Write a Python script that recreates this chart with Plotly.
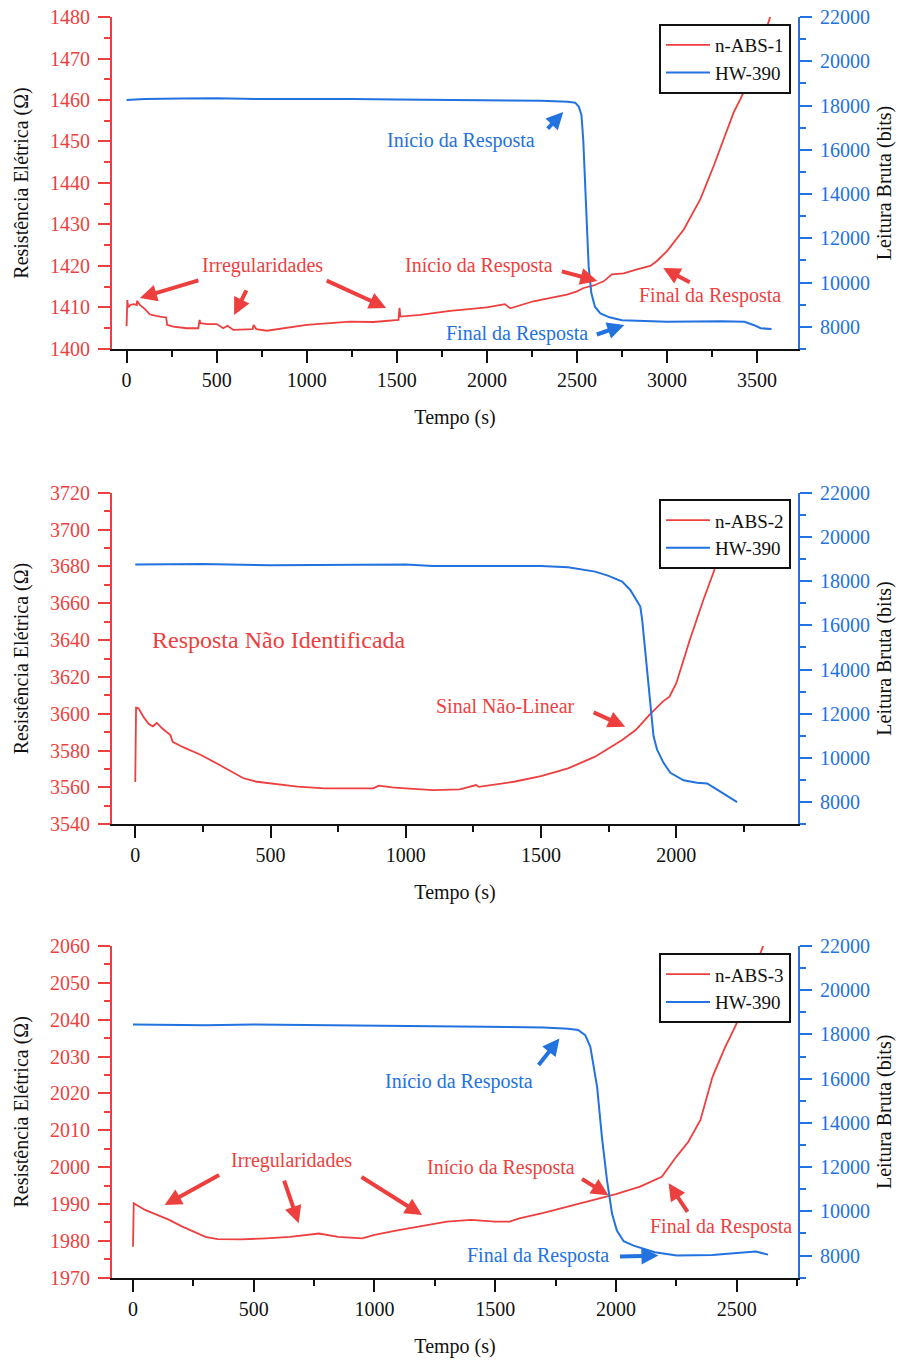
import plotly.graph_objects as go

FONT = "Liberation Serif, Times New Roman, serif"
RED = "#EE3F3F"
BLUE = "#2272DF"
BLACK = "#111111"

# ---------------- data ----------------
# Panel 1 : n-ABS-1 (left axis, Ohm) and HW-390 (right axis, bits)
t1_abs = [0, 4, 9, 20, 40, 57, 58, 74, 102, 130, 185, 220, 225, 259, 333, 398, 405, 410, 450, 500,
          537, 560, 593, 650, 700, 705, 720, 778, 870, 1000, 1148, 1241, 1370, 1509, 1515, 1520,
          1630, 1704, 1796, 1900, 2000, 2100, 2130, 2259, 2352, 2444, 2500, 2537, 2593, 2648,
          2694, 2759, 2833, 2907, 2944, 3000, 3093, 3185, 3259, 3315, 3370, 3407, 3463, 3580]
r1_abs = [1405.5, 1411.8, 1410.0, 1410.6, 1410.8, 1410.6, 1411.6, 1410.6, 1409.6, 1408.3, 1407.8,
          1407.6, 1405.8, 1405.4, 1405.0, 1405.0, 1407.0, 1406.2, 1406.0, 1406.0, 1405.0, 1405.6,
          1404.6, 1404.8, 1404.8, 1405.8, 1404.8, 1404.4, 1405.0, 1405.8, 1406.3, 1406.6, 1406.5,
          1407.0, 1409.9, 1407.8, 1408.2, 1408.7, 1409.2, 1409.6, 1410.0, 1410.8, 1409.8, 1411.5,
          1412.3, 1413.1, 1413.9, 1414.7, 1415.3, 1416.3, 1418.0, 1418.2, 1419.2, 1420.0, 1421.2,
          1423.6, 1428.8, 1436.1, 1444.1, 1450.5, 1457.0, 1460.2, 1465.4, 1481.0]
t1_hw = [0, 100, 300, 500, 750, 1000, 1250, 1500, 1800, 2000, 2300, 2450, 2490, 2510, 2525, 2535,
         2545, 2555, 2565, 2580, 2600, 2630, 2680, 2750, 2900, 3000, 3300, 3430, 3480, 3520, 3580]
b1_hw = [18250, 18300, 18320, 18330, 18290, 18300, 18300, 18270, 18260, 18250, 18220, 18175, 18130,
         17950, 17570, 16440, 14330, 12375, 10720, 9515, 8910, 8610, 8430, 8300, 8250, 8230, 8250,
         8230, 8085, 7935, 7900]

# Panel 2 : n-ABS-2 and HW-390
t2_abs = [0, 3, 12, 30, 50, 65, 80, 100, 130, 138, 175, 245, 300, 350, 400, 450, 500, 600, 700,
          880, 900, 950, 1000, 1100, 1200, 1260, 1270, 1400, 1500, 1600, 1700, 1800, 1850, 1900,
          1950, 1975, 2000, 2050, 2100, 2150, 2170, 2230]
r2_abs = [3563.0, 3603.3, 3603.0, 3598.4, 3594.4, 3593.2, 3595.0, 3592.0, 3588.5, 3584.8, 3582.0,
          3577.5, 3573.1, 3569.0, 3565.0, 3563.1, 3562.2, 3560.4, 3559.5, 3559.5, 3561.0, 3560.0,
          3559.5, 3558.6, 3559.0, 3561.3, 3560.3, 3563.1, 3566.2, 3570.4, 3576.7, 3585.8, 3591.2,
          3599.3, 3606.6, 3609.3, 3616.6, 3640.0, 3661.8, 3681.7, 3687.0, 3712.0]
t2_hw = [0, 250, 500, 750, 1000, 1100, 1500, 1600, 1700, 1750, 1800, 1830, 1867, 1874, 1892, 1916,
         1929, 1953, 1978, 2027, 2077, 2114, 2151, 2190, 2225]
b2_hw = [18750, 18780, 18720, 18750, 18750, 18690, 18690, 18630, 18430, 18240, 17980, 17600, 16850,
         16250, 13990, 10980, 10380, 9780, 9330, 8990, 8875, 8850, 8570, 8250, 8000]

# Panel 3 : n-ABS-3 and HW-390
t3_abs = [0, 3, 50, 100, 150, 200, 250, 300, 350, 450, 550, 650, 770, 850, 950, 1000, 1100, 1200,
          1300, 1400, 1500, 1560, 1600, 1700, 1800, 1900, 2000, 2100, 2190, 2250, 2300, 2350,
          2400, 2450, 2500, 2520, 2620]
r3_abs = [1978.4, 1990.2, 1988.4, 1987.0, 1985.7, 1984.0, 1982.5, 1981.1, 1980.5, 1980.4, 1980.7,
          1981.1, 1982.0, 1981.1, 1980.7, 1981.6, 1982.9, 1984.0, 1985.2, 1985.7, 1985.2, 1985.2,
          1986.1, 1987.6, 1989.3, 1991.1, 1992.7, 1994.7, 1997.4, 2002.8, 2006.9, 2012.8, 2024.5,
          2032.2, 2039.0, 2043.4, 2062.0]
t3_hw = [0, 300, 500, 900, 1200, 1500, 1700, 1803, 1843, 1873, 1894, 1922, 1942, 1963, 1984, 2004,
         2032, 2073, 2161, 2252, 2400, 2500, 2580, 2630]
b3_hw = [18450, 18420, 18450, 18410, 18380, 18345, 18320, 18255, 18200, 17970, 17440, 15630, 13360,
         11400, 9890, 9130, 8650, 8450, 8150, 8000, 8030, 8120, 8180, 8045]

# axis settings
x_ranges = [[-81, 3727], [-86, 2450], [-87, 2754]]
left_ranges = [[1400, 1480], [3540, 3720], [1970, 2060]]
left_dtick = [10, 20, 10]
right_range = [7000, 22000]
y_domains = [[0.7434, 0.9875], [0.3939, 0.6377], [0.0605, 0.3044]]
legend_tops = [0.9824, 0.6329, 0.2990]
abs_names = ["n-ABS-1", "n-ABS-2", "n-ABS-3"]
hw_name = "HW-390"

abs_t = [t1_abs, t2_abs, t3_abs]
abs_r = [r1_abs, r2_abs, r3_abs]
hw_t = [t1_hw, t2_hw, t3_hw]
hw_b = [b1_hw, b2_hw, b3_hw]

# text labels: (panel, side, text, x, y, size)
labels = [
    (0, "L", "Irregularidades", 757, 1420.2, 20),
    (0, "L", "Início da Resposta", 1957, 1420.2, 20),
    (0, "L", "Final da Resposta", 3240, 1412.8, 20),
    (0, "R", "Início da Resposta", 1857, 16397, 20),
    (0, "R", "Final da Resposta", 2168, 7721, 20),
    (1, "L", "Resposta Não Identificada", 530, 3640.1, 24),
    (1, "L", "Sinal Não-Linear", 1368, 3604.2, 20),
    (2, "L", "Irregularidades", 655, 2001.7, 20),
    (2, "L", "Início da Resposta", 1525, 1999.8, 20),
    (2, "L", "Final da Resposta", 2436, 1983.8, 20),
    (2, "R", "Início da Resposta", 1351, 15883, 20),
    (2, "R", "Final da Resposta", 1678, 7999, 20),
]
# arrows: (panel, side, tip x, tip y, tail dx px, tail dy px)
arrows = [
    (0, "L", 74, 1412.3, 60, -18),
    (0, "L", 597, 1408.2, 13, -26),
    (0, "L", 1441, 1409.9, -61, -28),
    (0, "L", 2613, 1416.4, -37, -10),
    (0, "L", 2979, 1419.5, 28, 15),
    (0, "R", 2424, 17707, -17, 18),
    (0, "R", 2763, 8082, -29, 10),
    (1, "L", 1811, 3593.0, -33, -15),
    (2, "L", 131, 1989.7, 56, -31),
    (2, "L", 686, 1984.8, -15, -44),
    (2, "L", 1197, 1987.0, -62, -39),
    (2, "L", 1969, 1992.4, -28, -17),
    (2, "L", 2218, 1995.6, 20, 30),
    (2, "R", 1766, 17818, -22, 28),
    (2, "R", 2176, 8000, -40, 1),
]


def ax_id(kind, n):
    return kind if n == 1 else f"{kind}{n}"


fig = go.Figure()
layout = {}
for i in range(3):
    xb, xt = 2 * i + 1, 2 * i + 2
    yl, yr = 2 * i + 1, 2 * i + 2
    leg = "legend" if i == 0 else f"legend{i + 1}"
    fig.add_trace(go.Scatter(x=abs_t[i], y=abs_r[i], mode="lines", name=abs_names[i],
                             line=dict(color=RED, width=1.8),
                             xaxis=ax_id("x", xb), yaxis=ax_id("y", yl), legend=leg))
    fig.add_trace(go.Scatter(x=hw_t[i], y=hw_b[i], mode="lines", name=hw_name,
                             line=dict(color=BLUE, width=2),
                             xaxis=ax_id("x", xb), yaxis=ax_id("y", yr), legend=leg))
    layout[f"xaxis{'' if xb == 1 else xb}"] = dict(
        domain=[0, 1], anchor=ax_id("y", yl), range=x_ranges[i], side="bottom",
        showline=True, linecolor=BLACK, linewidth=2, mirror=False, automargin=False,
        ticks="outside", ticklen=12, tickwidth=1.6, tickcolor=BLACK,
        tick0=0, dtick=500,
        minor=dict(ticks="outside", ticklen=6, tickwidth=1.6, tickcolor=BLACK, dtick=250, showgrid=False),
        showgrid=False, zeroline=False, ticklabelstandoff=0,
        tickfont=dict(family=FONT, size=20, color=BLACK),
        title=dict(text="Tempo (s)", font=dict(family=FONT, size=20, color=BLACK), standoff=20),
    )
    layout[f"xaxis{xt}"] = dict(
        overlaying=ax_id("x", xb), anchor=ax_id("y", yl), range=x_ranges[i], side="top",
        showline=True, linecolor=BLACK, linewidth=2, automargin=False,
        ticks="inside", ticklen=12, tickwidth=1.6, tickcolor=BLACK,
        tick0=0, dtick=500,
        minor=dict(ticks="inside", ticklen=6, tickwidth=1.6, tickcolor=BLACK, dtick=250, showgrid=False),
        showticklabels=False, showgrid=False, zeroline=False,
    )
    layout[f"yaxis{'' if yl == 1 else yl}"] = dict(
        domain=y_domains[i], anchor=ax_id("x", xb), range=left_ranges[i], side="left",
        showline=True, linecolor=RED, linewidth=2, automargin=False,
        ticks="outside", ticklen=12, tickwidth=1.6, tickcolor=RED,
        dtick=left_dtick[i], tick0=left_ranges[i][0],
        minor=dict(ticks="outside", ticklen=6, tickwidth=1.6, tickcolor=RED,
                   dtick=left_dtick[i] / 2, showgrid=False),
        showgrid=False, zeroline=False, ticklabelstandoff=4,
        tickfont=dict(family=FONT, size=20, color=RED),
        title=dict(text="Resistência Elétrica (Ω)", font=dict(family=FONT, size=20, color=BLACK),
                   standoff=16),
    )
    layout[f"yaxis{yr}"] = dict(
        overlaying=ax_id("y", yl), anchor=ax_id("x", xb), range=right_range, side="right",
        showline=True, linecolor=BLUE, linewidth=2, automargin=False,
        ticks="outside", ticklen=12, tickwidth=1.6, tickcolor=BLUE,
        tick0=8000, dtick=2000, tickformat="d",
        minor=dict(ticks="outside", ticklen=6, tickwidth=1.6, tickcolor=BLUE, dtick=1000, showgrid=False),
        showgrid=False, zeroline=False, ticklabelstandoff=4,
        tickfont=dict(family=FONT, size=20, color=BLUE),
        title=dict(text="Leitura Bruta (bits)", font=dict(family=FONT, size=20, color=BLACK),
                   standoff=8),
    )
    layout[leg] = dict(
        x=0.9898, y=legend_tops[i], xanchor="right", yanchor="top",
        bgcolor="white", bordercolor=BLACK, borderwidth=2,
        font=dict(family=FONT, size=19, color=BLACK),
        itemwidth=44, tracegroupgap=0,
    )

annotations = []
for p, side, text, x, y, size in labels:
    annotations.append(dict(
        x=x, y=y, xref=ax_id("x", 2 * p + 1),
        yref=ax_id("y", 2 * p + 1) if side == "L" else ax_id("y", 2 * p + 2),
        text=text, showarrow=False,
        font=dict(family=FONT, size=size, color=RED if side == "L" else BLUE),
    ))
for p, side, x, y, dx, dy in arrows:
    annotations.append(dict(
        x=x, y=y, xref=ax_id("x", 2 * p + 1),
        yref=ax_id("y", 2 * p + 1) if side == "L" else ax_id("y", 2 * p + 2),
        text="", showarrow=True, ax=dx, ay=dy,
        arrowhead=2, arrowsize=0.85, arrowwidth=4,
        arrowcolor=RED if side == "L" else BLUE,
    ))

fig.update_layout(
    width=899, height=1360, autosize=False,
    margin=dict(l=112, r=101, t=0, b=0, pad=0),
    paper_bgcolor="white", plot_bgcolor="white",
    annotations=annotations,
    **layout,
)

fig.write_html("out.html", config={"displayModeBar": False},
               post_script="document.body.style.margin='0px';document.body.style.overflow='hidden';")
